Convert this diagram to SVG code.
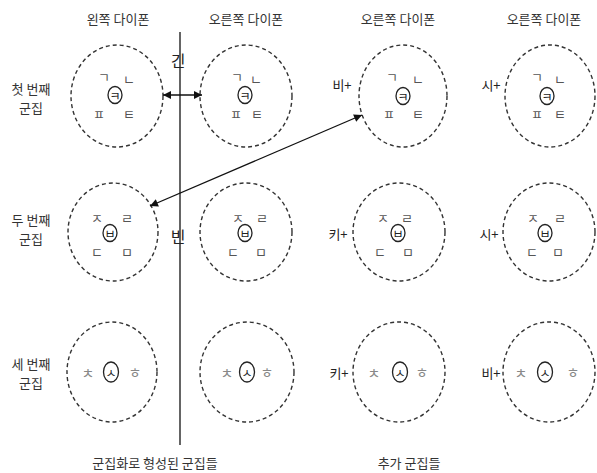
<svg xmlns="http://www.w3.org/2000/svg" width="597" height="473" viewBox="0 0 597 473">
<style>
text{font-family:"Noto Sans CJK KR","Noto Sans",sans-serif;text-anchor:middle;dominant-baseline:central}
.h{font-size:13px;fill:#333}
.lbl{font-size:13px;fill:#333}
.big{font-size:16px;fill:#222}
.j{font-size:13px;fill:#555}
.j3{font-size:14px;fill:#888}
.c{font-size:12px;fill:#222}
.p{font-size:13px;fill:#222}
.cl{fill:none;stroke:#333;stroke-width:1.4;stroke-dasharray:4 3}
.e{fill:none;stroke:#222;stroke-width:1.3}
.ln{fill:none;stroke:#111;stroke-width:1.3}
</style>
<defs>
<marker id="ah" viewBox="0 0 10 10" refX="10" refY="5" markerWidth="9" markerHeight="8" markerUnits="userSpaceOnUse" orient="auto-start-reverse">
<path d="M0,0 L10,5 L0,10 z" fill="#111"/>
</marker>
</defs>
<g id="headers">
<text class="h" x="118" y="18">왼쪽 다이폰</text>
<text class="h" x="246" y="18">오른쪽 다이폰</text>
<text class="h" x="398" y="18">오른쪽 다이폰</text>
<text class="h" x="544" y="18">오른쪽 다이폰</text>
</g>
<g id="row-labels">
<text class="lbl" x="31" y="88">첫 번째</text>
<text class="lbl" x="31" y="107">군집</text>
<text class="lbl" x="31" y="219">두 번째</text>
<text class="lbl" x="31" y="238">군집</text>
<text class="lbl" x="31" y="363">세 번째</text>
<text class="lbl" x="31" y="382">군집</text>
</g>
<g id="r1c1">
<ellipse class="cl" cx="117" cy="96" rx="46" ry="51"/>
<text class="j" x="104" y="76">ㄱ</text><text class="j" x="129" y="78">ㄴ</text>
<ellipse class="e" cx="115" cy="95" rx="7" ry="8.5"/><text class="c" x="115" y="95">ㅋ</text>
<text class="j" x="99" y="113">ㅍ</text><text class="j" x="129" y="113">ㅌ</text>
</g>
<g id="r1c2">
<ellipse class="cl" cx="246" cy="96" rx="46" ry="51"/>
<text class="j" x="237" y="76">ㄱ</text><text class="j" x="256" y="78">ㄴ</text>
<ellipse class="e" cx="245" cy="95" rx="7" ry="8.5"/><text class="c" x="245" y="95">ㅋ</text>
<text class="j" x="236" y="113">ㅍ</text><text class="j" x="257" y="113">ㅌ</text>
</g>
<g id="r1c3">
<ellipse class="cl" cx="403" cy="96" rx="44" ry="51"/>
<text class="p" x="342" y="84">비+</text>
<text class="j" x="392" y="76">ㄱ</text><text class="j" x="418" y="78">ㄴ</text>
<ellipse class="e" cx="403" cy="96" rx="7" ry="8.5"/><text class="c" x="403" y="96">ㅋ</text>
<text class="j" x="389" y="113">ㅍ</text><text class="j" x="418" y="113">ㅌ</text>
</g>
<g id="r1c4">
<ellipse class="cl" cx="550" cy="96" rx="45" ry="51"/>
<text class="p" x="491" y="84">시+</text>
<text class="j" x="537" y="76">ㄱ</text><text class="j" x="560" y="78">ㄴ</text>
<ellipse class="e" cx="547" cy="96" rx="7" ry="8.5"/><text class="c" x="547" y="96">ㅋ</text>
<text class="j" x="537" y="113">ㅍ</text><text class="j" x="560" y="113">ㅌ</text>
</g>
<g id="r2c1">
<ellipse class="cl" cx="113" cy="232" rx="45" ry="49"/>
<text class="j" x="97" y="217">ㅈ</text><text class="j" x="127" y="217">ㄹ</text>
<ellipse class="e" cx="110" cy="233" rx="7" ry="8.5"/><text class="c" x="110" y="233">ㅂ</text>
<text class="j" x="97" y="251">ㄷ</text><text class="j" x="127" y="251">ㅁ</text>
</g>
<g id="r2c2">
<ellipse class="cl" cx="246" cy="232" rx="46" ry="49"/>
<text class="j" x="238" y="217">ㅈ</text><text class="j" x="262" y="217">ㄹ</text>
<ellipse class="e" cx="245" cy="233" rx="7" ry="8.5"/><text class="c" x="245" y="233">ㅂ</text>
<text class="j" x="233" y="251">ㄷ</text><text class="j" x="261" y="251">ㅁ</text>
</g>
<g id="r2c3">
<ellipse class="cl" cx="399" cy="232" rx="46" ry="49"/>
<text class="p" x="338" y="233">키+</text>
<text class="j" x="383" y="217">ㅈ</text><text class="j" x="407" y="217">ㄹ</text>
<ellipse class="e" cx="398" cy="233" rx="7" ry="8.5"/><text class="c" x="398" y="233">ㅂ</text>
<text class="j" x="380" y="251">ㄷ</text><text class="j" x="408" y="251">ㅁ</text>
</g>
<g id="r2c4">
<ellipse class="cl" cx="549" cy="232" rx="46" ry="49"/>
<text class="p" x="489" y="233">시+</text>
<text class="j" x="533" y="217">ㅈ</text><text class="j" x="560" y="217">ㄹ</text>
<ellipse class="e" cx="545" cy="233" rx="7" ry="8.5"/><text class="c" x="545" y="233">ㅂ</text>
<text class="j" x="532" y="251">ㄷ</text><text class="j" x="558" y="251">ㅁ</text>
</g>
<g id="r3c1">
<ellipse class="cl" cx="112" cy="372" rx="45" ry="50"/>
<text class="j3" x="88" y="372">ㅊ</text>
<ellipse class="e" cx="111" cy="372" rx="7.5" ry="10"/><text class="c" x="111" y="372">ㅅ</text>
<text class="j3" x="135" y="372">ㅎ</text>
</g>
<g id="r3c2">
<ellipse class="cl" cx="247" cy="372" rx="47" ry="50"/>
<text class="j3" x="227" y="372">ㅊ</text>
<ellipse class="e" cx="247" cy="372" rx="7.5" ry="10"/><text class="c" x="247" y="372">ㅅ</text>
<text class="j3" x="267" y="372">ㅎ</text>
</g>
<g id="r3c3">
<ellipse class="cl" cx="399" cy="372" rx="46" ry="50"/>
<text class="p" x="339" y="372">키+</text>
<text class="j3" x="374" y="372">ㅊ</text>
<ellipse class="e" cx="400" cy="372" rx="7.5" ry="10"/><text class="c" x="400" y="372">ㅅ</text>
<text class="j3" x="422" y="372">ㅎ</text>
</g>
<g id="r3c4">
<ellipse class="cl" cx="549" cy="372" rx="46" ry="50"/>
<text class="p" x="491" y="372">비+</text>
<text class="j3" x="521" y="372">ㅊ</text>
<ellipse class="e" cx="545" cy="372" rx="7.5" ry="10"/><text class="c" x="545" y="372">ㅅ</text>
<text class="j3" x="573" y="372">ㅎ</text>
</g>
<g id="connectors">
<line class="ln" x1="180" y1="32" x2="180" y2="445"/>
<line class="ln" x1="163" y1="95" x2="202" y2="95" marker-start="url(#ah)" marker-end="url(#ah)"/>
<line class="ln" x1="150" y1="206" x2="362" y2="115" marker-start="url(#ah)" marker-end="url(#ah)"/>
</g>
<g id="line-labels">
<text class="big" x="178" y="60">긴</text>
<text class="big" x="178" y="236">빈</text>
</g>
<g id="footer">
<text class="h" x="155" y="462">군집화로 형성된 군집들</text>
<text class="h" x="409" y="462">추가 군집들</text>
</g>
</svg>
